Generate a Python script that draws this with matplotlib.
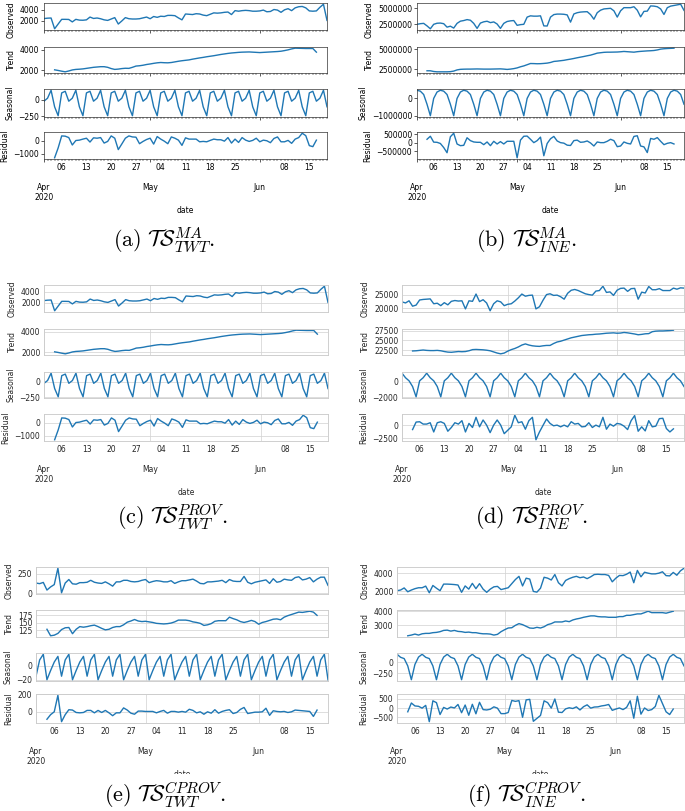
import numpy as np
import pandas as pd
import matplotlib
matplotlib.use('Agg')
import matplotlib.pyplot as plt
import matplotlib.dates as mdates
from matplotlib.ticker import FixedLocator, FuncFormatter, ScalarFormatter
from matplotlib.patches import Rectangle

plt.rcParams['mathtext.fontset'] = 'cm'
plt.rcParams['font.family'] = 'DejaVu Sans'

nan = np.nan
start_date = '2020-04-01'
n_days = 81
component_names = ['Observed', 'Trend', 'Seasonal', 'Residual']

# ---------------- TWT (MA and PROV share the same series) ----------------
twt_observed = [2380, 2450, 2480, 550, 1400, 2240, 2240, 2220, 1780, 2240,
                2100, 2080, 2150, 2650, 2400, 2480, 2350, 2150, 2050, 2300,
                2550, 1400, 1950, 2550, 2350, 2300, 2300, 2350, 2500, 2650,
                2350, 2750, 2600, 2800, 2750, 2950, 2950, 2900, 2500, 2150,
                3200, 3150, 3100, 3250, 3200, 3000, 2900, 3150, 3400, 3350,
                3400, 3500, 3550, 3100, 3800, 3700, 3800, 3850, 3800, 3700,
                3700, 3750, 3900, 3600, 3650, 4000, 3900, 3500, 3950, 4150,
                3800, 4300, 4500, 4550, 4300, 3750, 3700, 3750, 4400, 4950,
                2050]
twt_trend = [nan, nan, nan, 2060, 2000, 1930, 1870, 1950, 2050, 2100,
             2120, 2150, 2200, 2250, 2300, 2330, 2360, 2360, 2300, 2180,
             2100, 2130, 2180, 2210, 2200, 2300, 2420, 2450, 2500, 2570,
             2620, 2680, 2730, 2760, 2740, 2730, 2760, 2820, 2880, 2930,
             2970, 3010, 3080, 3140, 3200, 3250, 3310, 3360, 3410, 3470,
             3530, 3580, 3630, 3670, 3700, 3730, 3750, 3760, 3770, 3750,
             3730, 3710, 3730, 3750, 3770, 3790, 3810, 3840, 3900, 3970,
             4060, 4130, 4120, 4110, 4100, 4100, 4100, 3750, nan, nan,
             nan]
twt_resid = [nan, nan, nan, -1330, -560, 380, 360, 250, -330, 20,
             50, 130, 200, -100, 230, 200, 250, -180, -50, 380,
             200, -690, -250, 200, 380, 300, 280, -230, -50, 100,
             200, -260, 330, 130, -30, -230, 300, 200, 50, -360,
             230, 130, 130, 130, -80, -50, -80, 30, 130, 80,
             80, -30, 250, -180, 130, -130, 250, 50, -50, 30,
             200, -80, 50, 0, -150, 180, 300, -80, -80, 30,
             -200, 130, 250, 590, 400, -380, -460, 50, nan, nan,
             nan]
twt_season_week = [-25, 20, 140, -110, -245, 100, 125]   # Wed..Tue

# ---------------- INE MA (millions / thousands) ----------------
ine_ma_observed_m = [2.45, 2.55, 2.6, 2.2, 1.74, 2.45, 2.62, 2.65, 2.55, 2.0,
                     2.15, 1.85, 2.6, 2.95, 3.05, 3.2, 3.1, 2.6, 1.8, 2.65,
                     2.85, 2.94, 2.72, 2.83, 2.5, 1.8, 2.6, 2.9, 3.0, 3.05,
                     2.29, 2.4, 2.45, 3.6, 3.8, 3.75, 3.75, 3.8, 2.2, 2.18,
                     3.6, 4.0, 4.08, 4.08, 4.05, 3.95, 2.8, 4.1, 4.3, 4.4,
                     4.44, 4.46, 4.0, 3.26, 4.3, 4.7, 4.9, 4.95, 5.0, 4.6,
                     3.6, 4.6, 5.1, 5.1, 5.1, 5.25, 4.7, 3.64, 4.51, 4.55,
                     5.38, 5.35, 5.25, 4.9, 4.02, 5.1, 5.35, 5.45, 5.55, 5.65,
                     4.67]
ine_ma_trend_k = [nan, nan, nan, 2290, 2290, 2200, 2160, 2160, 2160, 2160,
                  2180, 2250, 2400, 2470, 2490, 2500, 2500, 2510, 2520, 2510,
                  2500, 2500, 2500, 2510, 2520, 2530, 2500, 2460, 2500, 2560,
                  2650, 2790, 2900, 3050, 3200, 3190, 3170, 3180, 3210, 3250,
                  3330, 3460, 3500, 3550, 3600, 3680, 3750, 3830, 3920, 4000,
                  4080, 4170, 4250, 4370, 4500, 4550, 4600, 4620, 4620, 4630,
                  4640, 4670, 4710, 4680, 4650, 4620, 4680, 4720, 4750, 4780,
                  4800, 4830, 4900, 5000, 5050, 5080, 5100, 5120, nan, nan,
                  nan]
ine_ma_resid_k = [nan, nan, nan, 200, 380, 30, 20, -50, -290, -600,
                  350, 560, -80, -180, -160, 290, 120, 40, 20, 20,
                  -120, 40, -180, 80, -80, 60, -80, 80, 80, 80,
                  -900, 150, 380, 390, 200, 0, 120, 330, -780, -50,
                  230, 370, 100, 0, -30, -150, -170, 120, 150, 20,
                  40, 100, -20, -200, 40, 0, 0, 80, 200, 120,
                  -240, -200, 40, -40, -80, 370, 410, -200, -250, -590,
                  250, 200, 300, 80, -120, -40, 0, -80, nan, nan,
                  nan]
ine_ma_season_week_k = [440, 390, 200, -350, -1000, -20, 340]

# ---------------- INE PROV ----------------
ine_prov_observed = [22300, 21900, 22700, 20700, 21100, 23000, 23200, 23300, 23400, 21600,
                     21800, 20900, 22000, 21200, 22500, 22800, 22600, 22700, 19700, 22700,
                     22500, 25200, 22400, 23100, 21900, 19000, 21600, 22700, 22300, 20900,
                     21400, 21600, 22600, 23800, 25200, 24400, 24700, 24800, 19700, 20500,
                     22900, 25000, 25300, 24700, 24800, 24200, 23300, 25500, 26600, 26900,
                     26500, 25900, 25300, 25000, 24800, 26300, 26500, 28100, 25800, 26000,
                     24700, 26600, 27300, 27400, 26200, 27200, 27300, 23300, 25900, 25600,
                     28000, 26800, 26800, 27200, 26500, 26500, 26500, 27400, 27000, 27500,
                     27400]
ine_prov_trend = [nan, nan, nan, 22250, 22300, 22400, 22500, 22400, 22350, 22350,
                  22400, 22300, 22100, 21950, 21900, 22000, 22100, 22050, 22100, 22300,
                  22600, 22650, 22600, 22550, 22450, 22300, 22000, 21700, 21500, 21700,
                  22200, 22600, 22900, 23300, 23800, 24100, 23800, 23600, 23500, 23450,
                  23600, 23700, 23700, 24200, 24600, 24800, 25100, 25400, 25700, 25900,
                  26100, 26300, 26400, 26500, 26550, 26650, 26700, 26800, 26900, 26950,
                  27000, 26900, 26950, 27100, 27000, 26850, 26700, 26500, 26600, 26750,
                  26800, 27300, 27450, 27500, 27500, 27550, 27600, 27700, nan, nan,
                  nan]
ine_prov_resid = [nan, nan, nan, -860, 590, 650, 200, 200, 460, -1320,
                  460, 650, 330, -1180, -460, 460, 200, 860, -1320, 330,
                  -460, 1510, -330, 990, 0, -1450, 0, 990, 0, -1650,
                  -990, -330, 1910, 460, 650, -790, 860, 1510, -2830, -1320,
                  -60, 1180, 330, -130, 0, -330, 0, -330, 660, 200,
                  330, -330, -260, 460, -460, 0, -330, 1510, -790, 200,
                  -200, 330, 200, -200, -860, 860, 1840, -1180, -330, -1120,
                  860, -330, -200, 1250, 1320, -660, -1320, -720, nan, nan,
                  nan]
ine_prov_season_week = [1150, 550, 150, -600, -1950, 150, 550]

# ---------------- TWT CPROV ----------------
cprov_twt_observed = [130, 122, 138, 40, 80, 110, 320, 5, 130, 175,
                      120, 115, 135, 135, 140, 165, 140, 130, 125, 145,
                      120, 90, 145, 145, 165, 165, 150, 145, 150, 165,
                      175, 135, 150, 160, 155, 145, 145, 160, 125, 145,
                      160, 160, 170, 180, 155, 125, 120, 145, 145, 150,
                      155, 165, 135, 175, 155, 150, 150, 215, 140, 120,
                      140, 150, 160, 170, 125, 185, 140, 150, 180, 170,
                      165, 200, 210, 170, 180, 200, 145, 180, 205, 205,
                      100]
cprov_twt_trend = [nan, nan, nan, 128, 106, 108, 114, 127, 133, 134,
                   113, 128, 137, 135, 137, 140, 142, 137, 131, 126,
                   128, 134, 137, 137, 143, 152, 156, 161, 156, 154,
                   155, 153, 151, 148, 147, 146, 147, 149, 153, 159,
                   159, 159, 157, 153, 151, 148, 141, 143, 147, 155,
                   157, 157, 157, 169, 164, 160, 154, 151, 154, 158,
                   154, 145, 151, 154, 158, 162, 163, 160, 169, 174,
                   178, 182, 186, 185, 187, 189, 186, 175, nan, nan,
                   nan]
cprov_twt_resid = [nan, nan, nan, -86, -33, 0, 190, -114, -33, 24,
                   20, -8, -12, -8, 16, 16, -12, 16, -8, 16,
                   -12, -45, -12, -12, 45, 20, -16, -28, 8, 8,
                   4, 4, 4, -12, 4, 16, -16, 4, 4, -4,
                   4, -4, 29, 16, -12, 0, -28, 0, -16, 24,
                   -16, 4, 16, 24, -20, -8, 28, 50, -20, -12,
                   -4, -4, 0, 41, -41, 12, 4, 0, 4, -8,
                   0, 20, 16, 12, 8, 4, -53, 20, nan, nan,
                   nan]
cprov_twt_season_week = [-15, 8, 16, -20, -7, 5, 13]

# ---------------- INE CPROV ----------------
cprov_ine_observed = [2080, 2150, 2380, 1960, 2150, 2300, 2400, 2400, 2580, 1850,
                      2650, 2350, 2080, 2800, 2800, 2780, 2750, 2700, 1900, 2600,
                      2250, 2880, 2300, 2850, 2250, 1900, 2250, 2500, 2550, 2200,
                      2300, 2400, 2850, 3300, 3650, 2600, 3450, 3350, 2000, 1920,
                      2350, 3550, 3450, 3250, 3850, 2950, 2600, 3200, 3400, 3550,
                      3650, 3500, 3580, 3400, 3600, 3850, 3880, 3850, 3850, 3750,
                      3050, 3450, 3750, 3730, 3880, 4120, 2950, 4300, 3600, 4100,
                      4000, 3920, 3920, 4000, 4150, 3730, 3700, 4080, 3770, 4250,
                      4540]
cprov_ine_trend = [nan, nan, nan, 2260, 2310, 2380, 2310, 2400, 2430, 2430,
                   2480, 2500, 2550, 2640, 2660, 2590, 2640, 2570, 2550, 2500,
                   2520, 2480, 2480, 2430, 2400, 2400, 2380, 2310, 2360, 2550,
                   2690, 2810, 2830, 3000, 3120, 3050, 2930, 2810, 2790, 2860,
                   2810, 2900, 3050, 3120, 3240, 3240, 3240, 3310, 3260, 3380,
                   3450, 3500, 3570, 3620, 3670, 3670, 3620, 3600, 3600, 3570,
                   3570, 3570, 3620, 3620, 3710, 3710, 3760, 3810, 3810, 3900,
                   4000, 3900, 3900, 3900, 3900, 3860, 3930, 4000, nan, nan,
                   nan]
cprov_ine_resid = [nan, nan, nan, -200, 280, 120, 100, 0, 150, -740,
                   400, 300, -350, 40, -50, 60, 10, 200, -250, 170,
                   -390, 210, -310, 320, -80, -100, -60, 70, 0, -300,
                   -300, -240, 420, 370, 410, -500, 450, 480, -720, -560,
                   -400, 400, 300, 0, 500, -220, -240, -40, 20, -20,
                   70, -100, 80, 180, 0, 60, 70, 120, 150, 200,
                   -120, -50, 10, -80, 40, 400, -550, 650, -330, 10,
                   -130, -80, 90, 700, 250, -200, -350, -50, nan, nan,
                   nan]
cprov_ine_season_week = [190, 120, 90, -80, -400, -45, 125]

# y tick values per panel
yticks_twt = [[2000, 4000], [2000, 4000], [-250, 0], [-1000, 0]]
yticks_ine_ma = [[2500000, 5000000], [2500000, 5000000], [-1000000, 0], [-500000, 0, 500000]]
yticks_ine_prov = [[20000, 25000], [22500, 25000, 27500], [-2000, 0], [-2500, 0]]
yticks_cprov_twt = [[0, 250], [125, 150, 175], [-20, 0], [0, 200]]
yticks_cprov_ine = [[2000, 4000], [3000, 4000], [-250, 0], [-500, 0, 500]]

captions = [r'$\mathrm{(a)}\ \mathcal{TS}^{MA}_{TWT}.$',
            r'$\mathrm{(b)}\ \mathcal{TS}^{MA}_{INE}.$',
            r'$\mathrm{(c)}\ \mathcal{TS}^{PROV}_{TWT}.$',
            r'$\mathrm{(d)}\ \mathcal{TS}^{PROV}_{INE}.$',
            r'$\mathrm{(e)}\ \mathcal{TS}^{CPROV}_{TWT}.$',
            r'$\mathrm{(f)}\ \mathcal{TS}^{CPROV}_{INE}.$']

# ---------------- build series ----------------
dates = pd.date_range(start_date, periods=n_days, freq='D')
xnum = mdates.date2num(dates.to_pydatetime())


def seasonal_full(week):
    return np.resize(np.asarray(week, dtype=float), n_days)


twt_set = [np.array(twt_observed, float), np.array(twt_trend, float),
           seasonal_full(twt_season_week), np.array(twt_resid, float)]
ine_ma_set = [np.array(ine_ma_observed_m, float) * 1e6, np.array(ine_ma_trend_k, float) * 1e3,
              seasonal_full(ine_ma_season_week_k) * 1e3, np.array(ine_ma_resid_k, float) * 1e3]
ine_prov_set = [np.array(ine_prov_observed, float), np.array(ine_prov_trend, float),
                seasonal_full(ine_prov_season_week), np.array(ine_prov_resid, float)]
cprov_twt_set = [np.array(cprov_twt_observed, float), np.array(cprov_twt_trend, float),
                 seasonal_full(cprov_twt_season_week), np.array(cprov_twt_resid, float)]
cprov_ine_set = [np.array(cprov_ine_observed, float), np.array(cprov_ine_trend, float),
                 seasonal_full(cprov_ine_season_week), np.array(cprov_ine_resid, float)]

W, H = 685, 811
FS = 5.5
LINE_C = '#1f77b4'

rows_ab = [(3, 30), (47, 73), (89, 117), (132, 159)]
rows_cd = [(285, 312), (329, 355), (372, 398), (414, 441)]
rows_ef = [(567, 594), (610, 637), (653, 681), (694, 723)]

panels = [
    dict(L=44, R=327, rows=rows_ab, sea=False, data=twt_set, yt=yticks_twt),
    dict(L=417, R=684, rows=rows_ab, sea=False, data=ine_ma_set, yt=yticks_ine_ma),
    dict(L=44, R=328, rows=rows_cd, sea=True, data=twt_set, yt=yticks_twt),
    dict(L=402, R=684, rows=rows_cd, sea=True, data=ine_prov_set, yt=yticks_ine_prov),
    dict(L=36, R=328, rows=rows_ef, sea=True, data=cprov_twt_set, yt=yticks_cprov_twt),
    dict(L=397, R=684, rows=rows_ef, sea=True, data=cprov_ine_set, yt=yticks_cprov_ine),
]
caption_pos = [(164, 247), (527, 247), (172, 524), (532, 524), (165, 802), (526, 802)]

month_locs = [mdates.date2num(d.to_pydatetime()) for d in dates if d.day == 1]


def major_fmt(x, pos):
    d = mdates.num2date(x)
    if abs(x - xnum[0]) < 0.5:
        return d.strftime('%b') + '\n' + d.strftime('%Y')
    return d.strftime('%b')


def minor_fmt(x, pos):
    d = mdates.num2date(x)
    if d.weekday() == 0 and d.day != 1:
        return d.strftime('%d')
    return ''


fig = plt.figure(figsize=(W / 100, H / 100), dpi=100)
fig.patch.set_facecolor('white')


def axrect(L, R, T, B):
    return [L / W, 1 - B / H, (R - L) / W, (B - T) / H]


for p in panels:
    sea = p['sea']
    txt_c = '#262626' if sea else 'black'
    for i, (T, B) in enumerate(p['rows']):
        ax = fig.add_axes(axrect(p['L'], p['R'], T, B))
        ax.plot(xnum, p['data'][i], color=LINE_C, lw=1.0)
        ax.set_xlim(xnum[0], xnum[-1])
        ax.set_yticks(p['yt'][i])
        fmt = ScalarFormatter(useOffset=False)
        fmt.set_scientific(False)
        ax.yaxis.set_major_formatter(fmt)
        ax.xaxis.set_major_locator(FixedLocator(month_locs))
        ax.xaxis.set_minor_locator(FixedLocator(list(xnum)))
        ax.xaxis.set_major_formatter(FuncFormatter(major_fmt))
        ax.xaxis.set_minor_formatter(FuncFormatter(minor_fmt))
        ax.set_ylabel(component_names[i], fontsize=FS, labelpad=3, color=txt_c)
        if T < 10:
            # keep the top label inside the picture
            ax.yaxis.label.set_y(0.4)
        if sea:
            ax.set_facecolor('white')
            for s in ax.spines.values():
                s.set_color('#cccccc')
                s.set_linewidth(0.65)
            ax.grid(True, which='major', color='#d4d4d4', linewidth=0.55)
            ax.set_axisbelow(True)
            ax.tick_params(which='both', length=0, colors='#262626', labelsize=FS, pad=2.6)
            ax.tick_params(axis='x', which='minor', pad=2.9)
            ax.tick_params(axis='x', which='major', pad=17.3)
        else:
            for s in ax.spines.values():
                s.set_color('#333333')
                s.set_linewidth(0.5)
            ax.tick_params(which='major', length=1.9, width=0.45, labelsize=FS, pad=1.6)
            ax.tick_params(which='minor', length=1.1, width=0.35, labelsize=FS, pad=1.6)
            ax.tick_params(axis='y', which='minor', left=False)
            ax.tick_params(axis='x', which='minor', pad=1.8)
            ax.tick_params(axis='x', which='major', pad=15.4)
        if i < 3:
            ax.tick_params(axis='x', which='both', labelbottom=False)
        else:
            ax.set_xlabel('date', fontsize=FS, labelpad=2.5, color=txt_c)

# crop of the bottom sub-figure labels (as in the reference)
fig.add_artist(Rectangle((0, 0), 1, 1 - 774 / H, transform=fig.transFigure,
                         facecolor='white', edgecolor='none', zorder=10))

for cap, (cx, cy) in zip(captions, caption_pos):
    fig.text(cx / W, 1 - cy / H, cap, ha='center', va='baseline', fontsize=16, zorder=11)

fig.savefig('out.png', dpi=100, facecolor='white')
